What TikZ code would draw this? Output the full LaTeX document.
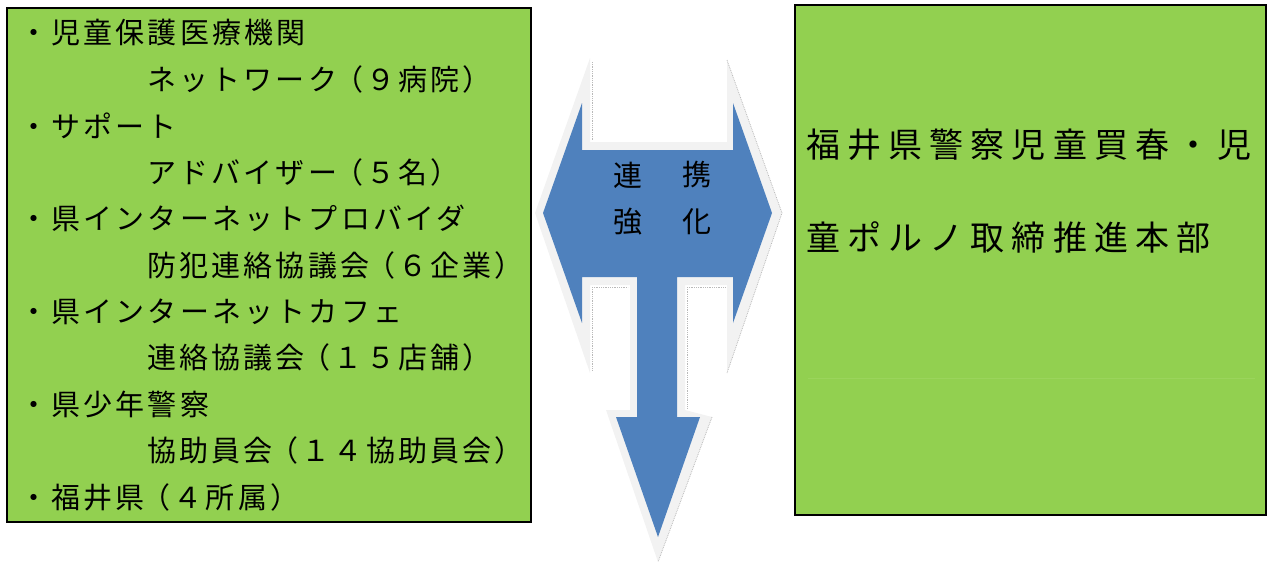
\documentclass[tikz,border=0pt]{standalone}
\usepackage{fontspec}
\setmainfont{Noto Sans CJK JP}
\newfontfamily\jpleft[LetterSpace=11]{Noto Sans CJK JP}
\newfontfamily\jpright[LetterSpace=21]{Noto Sans CJK JP}
\usetikzlibrary{positioning}
\definecolor{boxgreen}{HTML}{92D050}
\definecolor{faintgreen}{HTML}{9BD45C}
\definecolor{arrowblue}{HTML}{4F81BD}
\definecolor{glowgray}{HTML}{F2F2F2}
\newcommand{\opar}{\kern-3pt（\kern3pt}
\newcommand{\cpar}{\kern3pt）\kern-3pt}

\begin{document}
\begin{tikzpicture}[x=1pt, y=-1pt,
		greenbox/.style={draw=black, line width=2pt, fill=boxgreen},
		item/.style={anchor=west, inner sep=0pt, font=\jpleft\fontsize{29}{29}\selectfont},
		hqtext/.style={anchor=west, inner sep=0pt, font=\jpright\fontsize{34}{34}\selectfont},
		linktext/.style={inner sep=0pt, font=\fontsize{29}{29}\selectfont},
		rough/.style={draw=gray!55, line width=0.8pt, densely dotted}]
		\useasboundingbox (0,0) rectangle (1268,563);
		% left and right boxes
		\draw [greenbox] (7,8) rectangle (531,522);
		\draw [greenbox] (795,5) rectangle (1266,515);
		\draw [faintgreen, line width=1pt] (808,378)--(1255,378);
		\foreach \x/\txt [count=\i] in {19/・児童保護医療機関, 147/ネットワーク\opar ９病院\cpar, 19/・サポート, 147/アドバイザー\opar ５名\cpar, 19/・県インターネットプロバイダ, 147/防犯連絡協議会\opar ６企業\cpar, 19/・県インターネットカフェ, 147/連絡協議会\opar １５店舗\cpar, 19/・県少年警察, 147/協助員会\opar １４協助員会\cpar, 19/・福井県\opar ４所属\cpar}{
			\node [item] (item\i) at (\x,{33+(\i-1)*46.4}) {\txt};
		}
		\node [hqtext] (hq1) at (806,145) {福井県警察児童買春・児};
		\node [hqtext] (hq2) at (806,237) {童ポルノ取締推進本部};
		% arrow
		\fill [glowgray] (535,213)--(590,58)--(590,142)--(727,142)--(727,60)--(782,213)--(727,373)--(727,285)--(685,285)--(685,410)--(712,417)--(658,562)--(606,410)--(630,410)--(630,285)--(590,285)--(590,373)--cycle;
		\draw [rough] (592,62)--(592,140);
		\draw [rough] (592,287)--(628,287) (592,287)--(592,371);
		\draw [rough] (687,287)--(725,287) (687,287)--(687,408);
		\draw [rough] (727,60)--(782,213)--(727,373);
		\draw [rough] (712,417)--(658,562);
		\fill [arrowblue] (543,213)--(582,103)--(582,150)--(733,150)--(733,103)--(772,213)--(733,323)--(733,277)--(677,277)--(677,417)--(700,417)--(658,537)--(616,417)--(637,417)--(637,277)--(582,277)--(582,323)--cycle;
		\node [linktext] (ren) at (628,175) {連};
		\node [linktext] (kei) at (697,175) {携};
		\node [linktext] (kyo) at (628,222) {強};
		\node [linktext] (ka) at (697,222) {化};
	\end{tikzpicture}
\end{document}
